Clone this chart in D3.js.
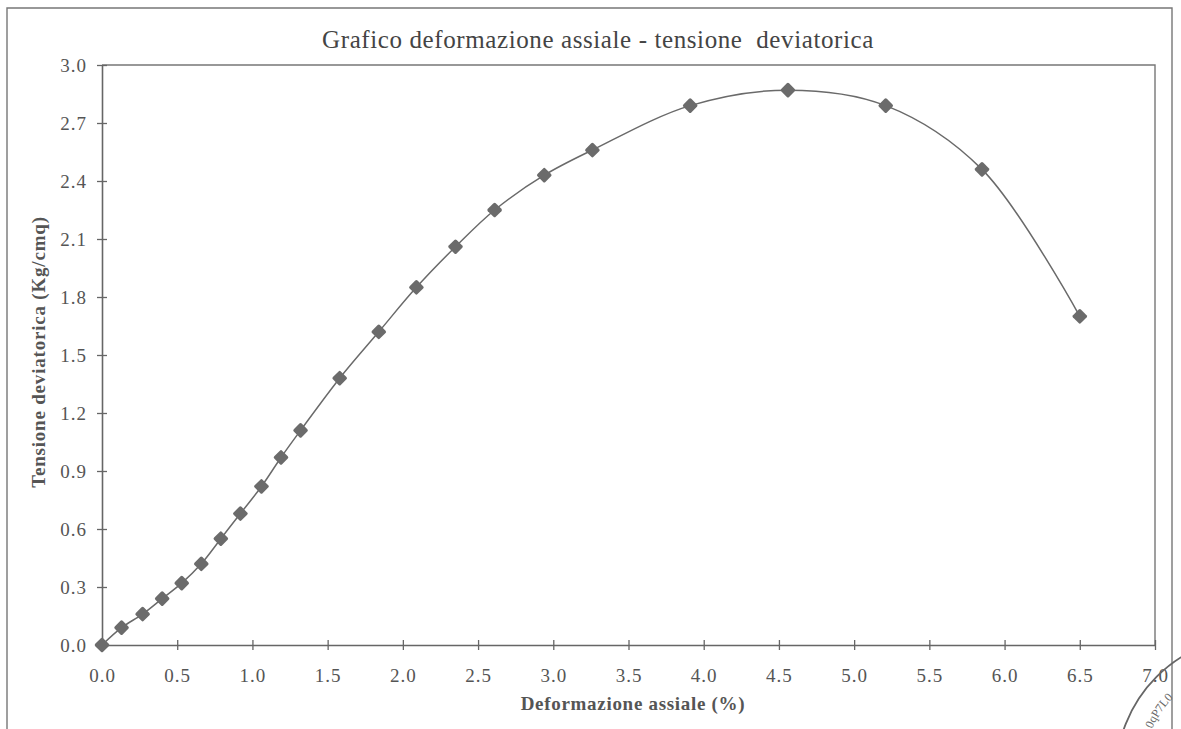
<!DOCTYPE html>
<html>
<head>
<meta charset="utf-8">
<script src="https://cdn.jsdelivr.net/npm/d3@7/dist/d3.min.js"></script>
<style>
  html, body { margin: 0; padding: 0; background: #fff; }
  svg { display: block; }
  text { font-family: "Liberation Serif", "Times New Roman", serif; fill: #505050; }
</style>
</head>
<body>
<svg id="chart" width="1181" height="729"></svg>
<script>
// Axial strain (%) and deviator stress (Kg/cmq) readings
const strain = [0, 0.13, 0.27, 0.40, 0.53, 0.66, 0.79, 0.92, 1.06, 1.19, 1.32,
                1.58, 1.84, 2.09, 2.35, 2.61, 2.94, 3.26, 3.91, 4.56, 5.21, 5.85, 6.50];
const stress = [0, 0.09, 0.16, 0.24, 0.32, 0.42, 0.55, 0.68, 0.82, 0.97, 1.11,
                1.38, 1.62, 1.85, 2.06, 2.25, 2.43, 2.56, 2.79, 2.87, 2.79, 2.46, 1.70];
const xTicks = [0, 0.5, 1, 1.5, 2, 2.5, 3, 3.5, 4, 4.5, 5, 5.5, 6, 6.5, 7];
const yTicks = [0, 0.3, 0.6, 0.9, 1.2, 1.5, 1.8, 2.1, 2.4, 2.7, 3.0];

const chartTitle = "Grafico deformazione assiale - tensione  deviatorica";
const xTitle = "Deformazione assiale (%)";
const yTitle = "Tensione deviatorica (Kg/cmq)";

const svg = d3.select("#chart");
const ink = "#666";

const x = d3.scaleLinear().domain([0, 7]).range([102, 1155]);
const y = d3.scaleLinear().domain([0, 3]).range([645, 65]);

// Outer frame
svg.append("path")
  .attr("d", "M7,735 L7,8 L1172,8 L1172,735")
  .attr("fill", "none").attr("stroke", "#777").attr("stroke-width", 1.4);

// Plot area box (top and right edges)
svg.append("path")
  .attr("d", `M${x(0)},${y(3)} L${x(7)},${y(3)} L${x(7)},${y(0)}`)
  .attr("fill", "none").attr("stroke", "#777").attr("stroke-width", 1.4);

// X axis with ticks crossing the line
const gx = svg.append("g")
  .attr("transform", `translate(0,${y(0)})`)
  .call(d3.axisBottom(x).tickValues(xTicks).tickFormat(d3.format(".1f")).tickSize(0).tickPadding(0));
gx.select(".domain").attr("stroke", ink).attr("stroke-width", 1.6);
gx.selectAll(".tick line").attr("y1", -5).attr("y2", 5).attr("stroke", ink).attr("stroke-width", 1.3);
gx.selectAll(".tick text")
  .attr("y", 37).attr("dy", null)
  .style("font-family", "'Liberation Serif', serif")
  .style("font-size", "19px").style("letter-spacing", "1px").style("fill", "#555");

// Y axis with ticks crossing the line
const gy = svg.append("g")
  .attr("transform", `translate(${x(0)},0)`)
  .call(d3.axisLeft(y).tickValues(yTicks).tickFormat(d3.format(".1f")).tickSize(0).tickPadding(0));
gy.select(".domain").attr("stroke", ink).attr("stroke-width", 1.6);
gy.selectAll(".tick line").attr("x1", -5).attr("x2", 5).attr("stroke", ink).attr("stroke-width", 1.3);
gy.selectAll(".tick text")
  .attr("x", -15).attr("dy", "0.34em")
  .style("font-family", "'Liberation Serif', serif")
  .style("font-size", "19px").style("letter-spacing", "1px").style("fill", "#555");

// Title
svg.append("text")
  .attr("x", 598).attr("y", 48)
  .attr("text-anchor", "middle")
  .style("font-size", "25px")
  .style("letter-spacing", "0.6px")
  .style("white-space", "pre")
  .style("fill", "#444")
  .text(chartTitle);

// Axis titles
svg.append("text")
  .attr("x", 633).attr("y", 710)
  .attr("text-anchor", "middle")
  .style("font-size", "19px").style("font-weight", "bold")
  .style("letter-spacing", "0.7px")
  .style("fill", "#555")
  .text(xTitle);

svg.append("text")
  .attr("transform", "translate(45,352) rotate(-90)")
  .attr("text-anchor", "middle")
  .style("font-size", "19px").style("font-weight", "bold")
  .style("letter-spacing", "0.8px")
  .style("fill", "#555")
  .text(yTitle);

// Smoothed curve through the readings
const pts = strain.map((s, i) => [s, stress[i]]);
const line = d3.line()
  .x(d => x(d[0])).y(d => y(d[1]))
  .curve(d3.curveCatmullRom.alpha(0.5));
svg.append("path")
  .datum(pts)
  .attr("d", line)
  .attr("fill", "none")
  .attr("stroke", "#6a6a6a")
  .attr("stroke-width", 1.5);

// Diamond markers
svg.append("g").selectAll("rect")
  .data(pts)
  .join("rect")
  .attr("x", -5.6).attr("y", -5.6)
  .attr("width", 11.2).attr("height", 11.2)
  .attr("rx", 1.6)
  .attr("transform", d => `translate(${x(d[0])},${y(d[1])}) rotate(45)`)
  .attr("fill", "#6b6b6b");

// Stamp in the lower-right corner
const stamp = svg.append("g");
stamp.append("circle")
  .attr("cx", 1255).attr("cy", 775).attr("r", 139)
  .attr("fill", "none").attr("stroke", "#666").attr("stroke-width", 1.8);
stamp.append("path")
  .attr("id", "stampArc")
  .attr("d", "M1152,729 A112,112 0 0,1 1200,677")
  .attr("fill", "none");
stamp.append("text")
  .style("font-size", "12px").style("fill", "#666")
  .append("textPath")
  .attr("href", "#stampArc")
  .text("0qP7L0");
</script>
</body>
</html>
